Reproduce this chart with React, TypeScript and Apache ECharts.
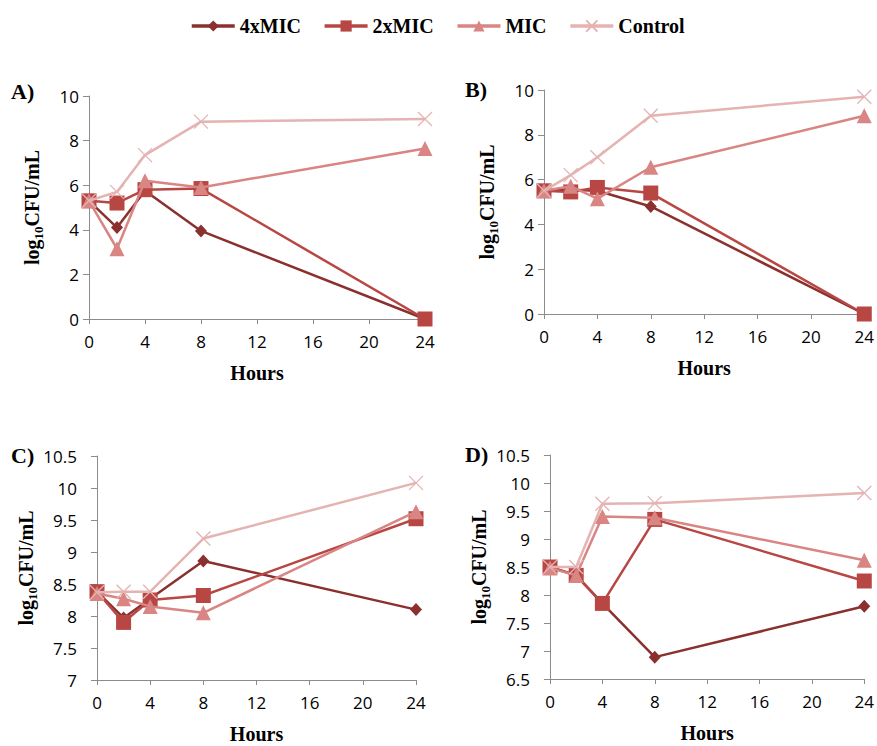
import React, { useEffect, useRef } from "react";
import * as echarts from "echarts";

const hours = [0, 2, 4, 8, 24];
const seriesNames = ["4xMIC", "2xMIC", "MIC", "Control"];

// Panel A
const a4x = [5.3, 4.1, 5.75, 3.95, 0];
const a2x = [5.3, 5.2, 5.8, 5.85, 0];
const aMic = [5.3, 3.15, 6.2, 5.9, 7.65];
const aCtl = [5.3, 5.7, 7.35, 8.85, 8.97];
// Panel B
const b4x = [5.5, 5.55, 5.5, 4.8, 0];
const b2x = [5.5, 5.45, 5.65, 5.4, 0];
const bMic = [5.5, 5.7, 5.15, 6.55, 8.85];
const bCtl = [5.5, 6.2, 7.0, 8.85, 9.7];
// Panel C
const c4x = [8.38, 7.97, 8.27, 8.86, 8.1];
const c2x = [8.38, 7.9, 8.25, 8.32, 9.52];
const cMic = [8.35, 8.27, 8.15, 8.05, 9.63];
const cCtl = [8.37, 8.38, 8.38, 9.21, 10.08];
// Panel D
const d4x = [8.5, 8.35, 7.85, 6.89, 7.8];
const d2x = [8.5, 8.35, 7.85, 9.35, 8.25];
const dMic = [8.48, 8.35, 9.4, 9.38, 8.62];
const dCtl = [8.5, 8.5, 9.63, 9.64, 9.82];

const panelLabels = ["A)", "B)", "C)", "D)"];
const yRanges = [
  [0, 10, 2],
  [0, 10, 2],
  [7, 10.5, 0.5],
  [6.5, 10.5, 0.5],
];
const xTicks = [0, 24, 4];

const panelData = [
  [a4x, a2x, aMic, aCtl],
  [b4x, b2x, bMic, bCtl],
  [c4x, c2x, cMic, cCtl],
  [d4x, d2x, dMic, dCtl],
];

const COLORS = ["#8A302E", "#B84744", "#D88583", "#E4B3B2"];
const SYMBOLS = ["diamond", "rect", "triangle", "path://M0,0L10,10M10,0L0,10"];
const SYMSIZES: any[] = [[12, 13], 15, 15, 14];

const SERIF = "'Liberation Serif', 'Times New Roman', serif";
const SANS = "'Open Sans', 'Noto Sans', sans-serif";

const grids = [
  { left: 89, top: 96, width: 336, height: 223 },
  { left: 544, top: 90, width: 324, height: 224 },
  { left: 97, top: 456, width: 319, height: 224 },
  { left: 550, top: 455, width: 319, height: 224 },
];
const labelMargins = [10, 10, 20, 20];
const labelPos = [
  { x: 11, y: 92 },
  { x: 465, y: 90 },
  { x: 11, y: 456 },
  { x: 465, y: 455 },
];

export default function App() {
  const ref = useRef<HTMLDivElement>(null);
  useEffect(() => {
    if (!ref.current) return;
    const chart = echarts.init(ref.current, undefined, { renderer: "svg" });
    const axisLineStyle = { color: "#8C8C8C", width: 1 };

    const xAxis = grids.map((_, i) => ({
      type: "value",
      gridIndex: i,
      min: xTicks[0],
      max: xTicks[1],
      interval: xTicks[2],
      axisLine: { show: true, onZero: false, lineStyle: axisLineStyle },
      axisTick: { show: true, inside: false, length: 5, lineStyle: axisLineStyle },
      splitLine: { show: false },
      axisLabel: { fontFamily: SANS, fontSize: 17, color: "#000", margin: 14 },
      name: "Hours",
      nameLocation: "middle",
      nameGap: 44,
      nameTextStyle: { fontFamily: SERIF, fontSize: 20, fontWeight: "bold", color: "#000" },
    }));

    const yAxis = grids.map((_, i) => ({
      type: "value",
      gridIndex: i,
      min: yRanges[i][0],
      max: yRanges[i][1],
      interval: yRanges[i][2],
      axisLine: { show: true, onZero: false, lineStyle: axisLineStyle },
      axisTick: { show: true, inside: false, length: 6, lineStyle: axisLineStyle },
      splitLine: { show: false },
      axisLabel: { fontFamily: SANS, fontSize: 17, color: "#000", margin: labelMargins[i] },
      name: "{m|log}{s|10}{m|CFU/mL}",
      nameLocation: "middle",
      nameGap: i < 2 ? 44 : 46,
      nameTextStyle: {
        color: "#000",
        rich: {
          m: { fontFamily: SERIF, fontSize: 20, fontWeight: "bold", color: "#000", lineHeight: 26 },
          s: {
            fontFamily: SERIF,
            fontSize: 13,
            fontWeight: "bold",
            color: "#000",
            lineHeight: 12,
            verticalAlign: "bottom",
          },
        },
      },
    }));

    const series: any[] = [];
    panelData.forEach((arrs, gi) => {
      arrs.forEach((vals, si) => {
        series.push({
          type: "line",
          name: seriesNames[si],
          xAxisIndex: gi,
          yAxisIndex: gi,
          data: hours.map((h, k) => [h, vals[k]]),
          color: COLORS[si],
          symbol: SYMBOLS[si],
          symbolSize: SYMSIZES[si],
          showAllSymbol: true,
          lineStyle: { color: COLORS[si], width: 2.5 },
          itemStyle:
            si === 3
              ? { color: COLORS[si], borderColor: COLORS[si], borderWidth: 1.3 }
              : { color: COLORS[si] },
          z: 2 + si,
        });
      });
    });

    const graphic = panelLabels.map((t, i) => ({
      type: "text",
      left: labelPos[i].x,
      top: labelPos[i].y - 12,
      style: {
        text: t,
        font: `bold 22px ${SERIF}`,
        fill: "#000",
      },
    }));

    chart.setOption({
      animation: false,
      backgroundColor: "#fff",
      legend: {
        data: seriesNames,
        left: 185,
        top: 11,
        itemWidth: 43,
        itemHeight: 14,
        itemGap: 22,
        lineStyle: { width: 3.5 },
        textStyle: { fontFamily: SERIF, fontSize: 20, fontWeight: "bold", color: "#000" },
      },
      grid: grids,
      xAxis,
      yAxis,
      series,
      graphic,
    });
    return () => chart.dispose();
  }, []);

  return (
    <div
      ref={ref}
      style={{ position: "fixed", left: 0, top: 0, width: 877, height: 746, background: "#fff" }}
    />
  );
}
